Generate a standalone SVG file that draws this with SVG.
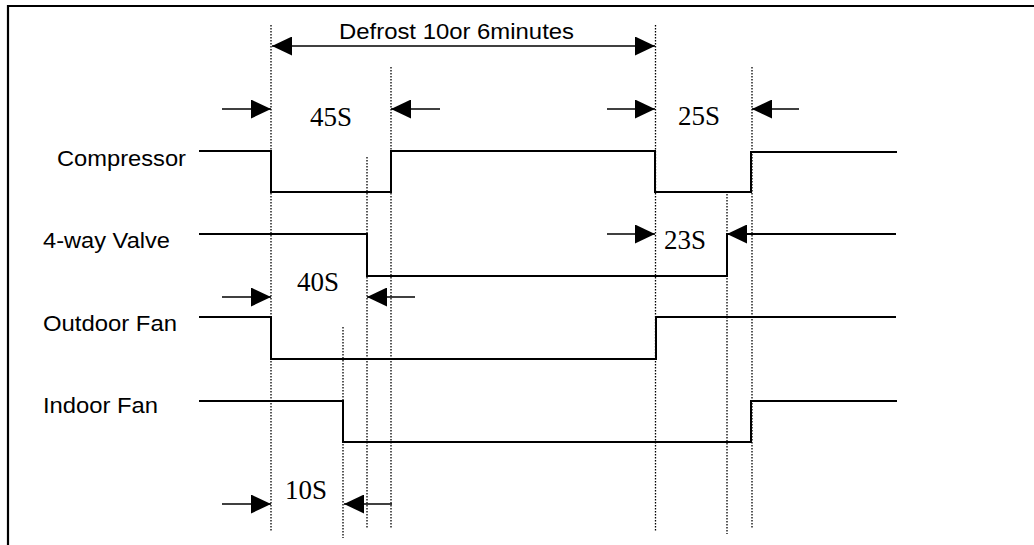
<svg xmlns="http://www.w3.org/2000/svg" width="1034" height="545" viewBox="0 0 1034 545">
<style>
.frame{stroke:#000;stroke-width:2.2;fill:none}
.sig{stroke:#000;stroke-width:2;fill:none;stroke-linejoin:miter}
.guide{stroke:#000;stroke-width:1.3;stroke-dasharray:1.5 1.5;fill:none}
.dim{stroke:#000;stroke-width:1.6;fill:none}
.lbl{font-family:"Liberation Sans",Arial,sans-serif;font-size:22px;fill:#000}
.tm{font-family:"Liberation Serif","Times New Roman",serif;font-size:27px;fill:#000}
.head{fill:#000}
</style>
<defs>
<marker id="ah" markerUnits="userSpaceOnUse" markerWidth="20" markerHeight="19" refX="20" refY="9.5" orient="auto-start-reverse">
<path d="M0,0 L20,9.5 L0,19 z" class="head"/>
</marker>
</defs>
<rect width="1034" height="545" fill="#fff"/>
<g id="frame">
<path class="frame" d="M8,545 V6 H1034"/>
</g>
<g id="guides">
<line class="guide" x1="271" y1="25" x2="271" y2="532"/>
<line class="guide" x1="343" y1="327" x2="343" y2="538"/>
<line class="guide" x1="367" y1="157" x2="367" y2="528"/>
<line class="guide" x1="391" y1="67" x2="391" y2="528"/>
<line class="guide" x1="655.5" y1="25" x2="655.5" y2="532"/>
<line class="guide" x1="727" y1="191" x2="727" y2="534"/>
<line class="guide" x1="752" y1="67" x2="752" y2="528"/>
</g>
<g id="compressor">
<text class="lbl" x="57" y="166" textLength="129" lengthAdjust="spacingAndGlyphs">Compressor</text>
<path class="sig" d="M199,151 H271 V192 H391 V151 H655 V192 H751 V152 H897"/>
</g>
<g id="four-way-valve">
<text class="lbl" x="43" y="248" textLength="127" lengthAdjust="spacingAndGlyphs">4-way Valve</text>
<path class="sig" d="M199,234 H367 V276 H727 V234 H896"/>
</g>
<g id="outdoor-fan">
<text class="lbl" x="43" y="331" textLength="134" lengthAdjust="spacingAndGlyphs">Outdoor Fan</text>
<path class="sig" d="M199,317 H271 V359 H656 V317 H896"/>
</g>
<g id="indoor-fan">
<text class="lbl" x="43" y="413" textLength="115" lengthAdjust="spacingAndGlyphs">Indoor Fan</text>
<path class="sig" d="M199,401 H343 V442 H751 V401 H897"/>
</g>
<g id="connectors">
<line class="dim" x1="272" y1="46" x2="655" y2="46" marker-start="url(#ah)" marker-end="url(#ah)"/>
<line class="dim" x1="222" y1="109" x2="271" y2="109" marker-end="url(#ah)"/>
<line class="dim" x1="440" y1="109" x2="391" y2="109" marker-end="url(#ah)"/>
<line class="dim" x1="607" y1="109" x2="655" y2="109" marker-end="url(#ah)"/>
<line class="dim" x1="799" y1="109" x2="752" y2="109" marker-end="url(#ah)"/>
<line class="dim" x1="607" y1="234" x2="655" y2="234" marker-end="url(#ah)"/>
<line class="dim" x1="760" y1="234" x2="727" y2="234" marker-end="url(#ah)"/>
<line class="dim" x1="222" y1="297" x2="271" y2="297" marker-end="url(#ah)"/>
<line class="dim" x1="415" y1="297" x2="367" y2="297" marker-end="url(#ah)"/>
<line class="dim" x1="222" y1="504" x2="271" y2="504" marker-end="url(#ah)"/>
<line class="dim" x1="392" y1="504" x2="344" y2="504" marker-end="url(#ah)"/>
</g>
<g id="dimension-labels">
<text class="lbl" x="339" y="39" textLength="235" lengthAdjust="spacingAndGlyphs">Defrost 10or 6minutes</text>
<text class="tm" x="310" y="126">45S</text>
<text class="tm" x="678" y="125">25S</text>
<text class="tm" x="664" y="249">23S</text>
<text class="tm" x="297" y="291">40S</text>
<text class="tm" x="285" y="499">10S</text>
</g>
</svg>
